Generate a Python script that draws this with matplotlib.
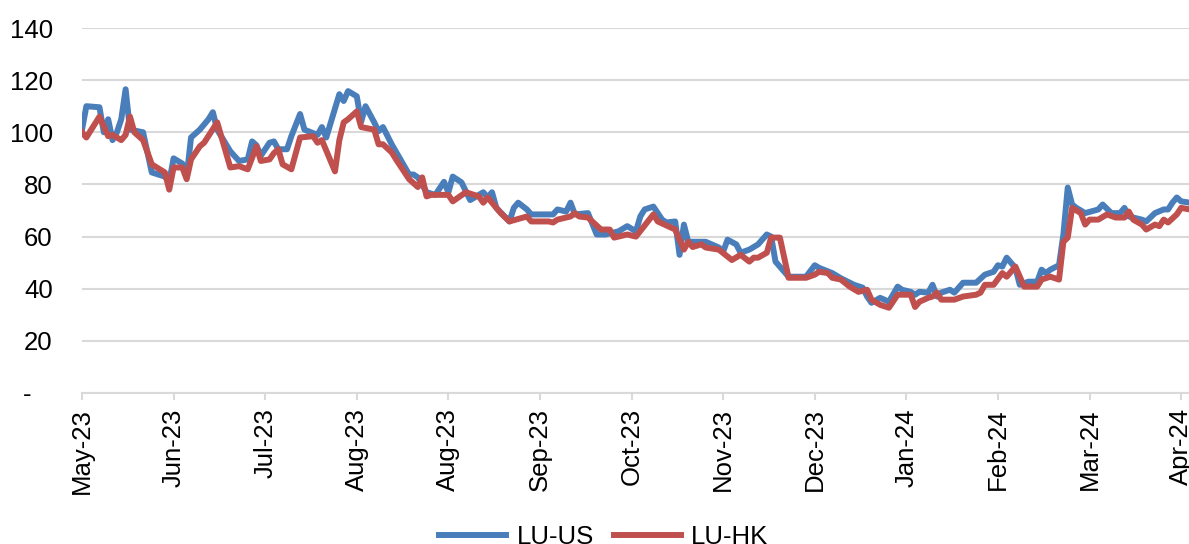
import matplotlib.pyplot as plt

plt.rcParams['font.family'] = ['Liberation Sans', 'DejaVu Sans']

# trading-day index and values
us_x = [0, 1, 4, 5, 6, 7, 8, 9, 10, 11, 14, 16, 19, 20, 21, 23, 24, 25, 27, 29,
        30, 31, 34, 36, 38, 39, 40, 41, 43, 44, 45, 47, 48, 50, 51, 54, 55, 56, 58, 59,
        60, 61, 63, 64, 65, 67, 68, 69, 71, 73, 75, 76, 77, 79, 81, 83, 84, 85, 87, 89,
        92, 93, 94, 95, 98, 99, 100, 102, 103, 108, 109, 111, 112, 113, 116, 118, 120, 123, 125, 127,
        128, 129, 131, 133, 134, 136, 137, 138, 139, 141, 143, 146, 147, 148, 150, 151, 153, 155, 157, 158,
        159, 162, 166, 168, 169, 172, 174, 177, 179, 180, 181, 183, 185, 187, 188, 190, 191, 192, 194, 195,
        196, 197, 199, 200, 202, 205, 207, 209, 210, 211, 212, 214, 215, 217, 219, 220, 221, 222, 224, 225,
        226, 227, 228, 230, 233, 234, 236, 238, 239, 240, 243, 244, 246, 248, 249, 250, 251, 252, 254]
us_y = [101, 110, 109.6, 100, 105, 97, 100, 105, 116.5, 101, 100, 84.6, 83, 81, 90, 88, 83, 98, 101, 105,
        107.7, 101, 92.7, 89, 89.6, 96.5, 95, 91, 96, 96.5, 93.5, 93.5, 98.5, 107, 101, 99, 102, 98, 109, 114.6,
        112, 115.8, 113.8, 104, 110, 103.8, 100.4, 102, 95.4, 89.6, 83.8, 83.8, 82.7, 77, 76, 81, 77, 83, 80.8, 74,
        77, 75, 77, 71, 65.8, 71, 73, 70.4, 68.5, 68.5, 70.4, 69.6, 73, 68.5, 69, 60.8, 60.8, 62, 64, 62,
        67.7, 70.4, 71.5, 66.5, 65.4, 65.8, 53, 64.6, 58, 58, 58, 55.8, 54.2, 58.8, 57, 53.8, 55, 57, 60.8, 60,
        50.4, 44.6, 44.6, 49, 48, 46, 44, 41.5, 40.4, 37, 34.6, 36.5, 35, 40.8, 39.6, 38.8, 37.7, 38.8, 38.5, 41.5,
        37, 38.5, 39.6, 38.5, 42.3, 42.3, 45.4, 46.5, 49, 48.5, 51.9, 48, 41.5, 42.7, 42.7, 47.3, 46, 47.3, 49, 60.8,
        78.8, 72.3, 71, 69, 70.4, 72.3, 69, 69, 71, 67.7, 66.5, 65.8, 69, 70.4, 70.4, 73, 75, 73.5, 73]

hk_x = [0, 1, 4, 6, 7, 9, 10, 11, 12, 14, 16, 19, 20, 21, 23, 24, 25, 27, 28, 31,
        34, 36, 38, 40, 41, 43, 44, 45, 46, 48, 50, 53, 54, 55, 58, 59, 60, 61, 63, 64,
        67, 68, 69, 71, 72, 75, 77, 78, 79, 80, 84, 85, 88, 91, 92, 93, 94, 96, 98, 102,
        103, 107, 108, 109, 112, 113, 114, 116, 119, 121, 122, 125, 127, 131, 132, 136, 138, 139, 140, 142,
        143, 146, 149, 151, 153, 154, 155, 157, 158, 160, 162, 166, 168, 169, 171, 172, 174, 176, 178, 180,
        181, 183, 185, 187, 190, 191, 192, 194, 195, 196, 197, 200, 202, 205, 206, 207, 209, 211, 212, 214,
        216, 219, 220, 222, 224, 225, 226, 227, 229, 230, 231, 233, 235, 237, 239, 240, 241, 243, 244, 246,
        247, 248, 249, 251, 252, 254]
hk_y = [100, 98, 106, 98.5, 99, 97, 99, 106, 100, 97, 87.7, 84.6, 78, 86.5, 86.5, 82, 89.6, 94.6, 96, 103.8,
        86.5, 87, 85.8, 94.6, 89, 89.6, 92, 93.5, 87.7, 85.8, 98, 98.5, 96, 97, 85, 97, 103.8, 105, 108, 102,
        101, 95.4, 95.4, 92.3, 89.6, 82, 79, 82.7, 75.4, 76, 76, 73.5, 77, 75.4, 73, 75, 73, 69, 65.8, 67.7,
        65.8, 65.8, 65.4, 66.5, 67.7, 69, 67.7, 67.3, 62.7, 62.7, 59.6, 60.8, 60, 68.5, 65.8, 62.7, 55, 58, 56, 57,
        55.8, 55, 51, 53, 50.4, 51.9, 51.9, 53.8, 59.6, 59.6, 44.2, 44.2, 45.4, 46.5, 46, 44.2, 43.5, 40.8, 38.8, 39.6,
        35.8, 33.8, 32.7, 37.7, 37.7, 33, 35, 36.5, 37, 38.5, 35.8, 35.8, 37, 37.7, 38.5, 41.5, 41.5, 46, 44.6, 48.5,
        40.8, 40.8, 43.5, 44.6, 43.5, 58, 59.6, 71, 69, 64.6, 66.5, 66.5, 68.5, 67.3, 67.3, 69.6, 66.5, 64.6, 62.7, 64.6,
        64, 66.5, 65.4, 68.5, 71, 70.4]

tick_pos = [0, 21, 42, 63, 84, 105, 126, 147, 168, 189, 210, 231, 252]
tick_labels = ["May-23", "Jun-23", "Jul-23", "Aug-23", "Aug-23", "Sep-23", "Oct-23",
               "Nov-23", "Dec-23", "Jan-24", "Feb-24", "Mar-24", "Apr-24"]
y_ticks = [0, 20, 40, 60, 80, 100, 120, 140]
y_labels = ["-   ", "20", "40", "60", "80", "100", "120", "140"]

fig = plt.figure(figsize=(11.89, 5.44), dpi=100)
ax = fig.add_axes([82 / 1189, 1 - 393 / 544, 1 - 82 / 1189, (393 - 28) / 544])

ax.plot(us_x, us_y, color="#4A7EBB", linewidth=4.3, label="LU-US", solid_joinstyle="round")
ax.plot(hk_x, hk_y, color="#C0504D", linewidth=4.3, label="LU-HK", solid_joinstyle="round")

ax.set_xlim(0, 253.8)
ax.set_ylim(0, 140)
ax.set_yticks(y_ticks)
ax.set_yticklabels(y_labels)
ax.set_xticks(tick_pos)
ax.set_xticklabels(tick_labels, rotation=90)
ax.grid(axis="y", color="#D9D9D9", linewidth=1.5)
ax.set_axisbelow(True)
for s in ["left", "right", "top"]:
    ax.spines[s].set_visible(False)
ax.spines["bottom"].set_color("#D9D9D9")
ax.spines["bottom"].set_linewidth(1.5)
ax.tick_params(axis="y", length=0, pad=21, labelsize=18.5)
ax.tick_params(axis="x", length=5, width=1.5, color="#D9D9D9", pad=6, labelsize=18.5)

fig.legend(loc="center", bbox_to_anchor=(0.508, 0.012), ncol=2, frameon=False,
           fontsize=18.5, handlelength=2.6, columnspacing=0.8, handletextpad=0.4)

fig.savefig("out.png", dpi=100)
